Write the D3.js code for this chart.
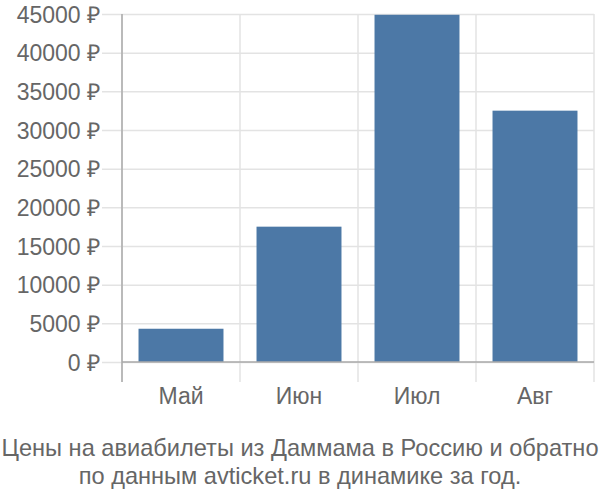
<!DOCTYPE html>
<html>
<head>
<meta charset="utf-8">
<script src="https://cdn.jsdelivr.net/npm/d3@7"></script>
<style>
  body { margin: 0; background: #fff; }
  text { font-family: "Liberation Sans", Arial, sans-serif; fill: #666; }
</style>
</head>
<body>
<svg width="600" height="500"></svg>
<script>
// chart data
const months = ["Май", "Июн", "Июл", "Авг"];
const prices = [4300, 17500, 44900, 32500];
const yTicks = [0, 5000, 10000, 15000, 20000, 25000, 30000, 35000, 40000, 45000];
const titleLines = ["Цены на авиабилеты из Даммама в Россию и обратно", "по данным avticket.ru в динамике за год."];

const margin = { top: 14, right: 6, bottom: 138, left: 122 };
const w = 600 - margin.left - margin.right;
const h = 500 - margin.top - margin.bottom;
const fs = 23;

const svg = d3.select("svg");
const chart = svg.append("g")
    .attr("transform", `translate(${margin.left},${margin.top})`);

const x = d3.scaleBand().domain(months).range([0, w]).paddingInner(0.28).paddingOuter(0.14);
const y = d3.scaleLinear().domain([0, 45000]).range([h, 0]);

// horizontal grid + y ticks
const yAxis = chart.append("g")
    .call(d3.axisLeft(y).tickValues(yTicks).tickSize(20).tickFormat(d => d + " ₽"));
yAxis.select(".domain").remove();
yAxis.selectAll(".tick line").attr("x2", w).attr("x1", -20).attr("stroke", "#e3e3e3").attr("stroke-width", 1.5);
yAxis.selectAll(".tick text").attr("x", -22).attr("font-size", fs).attr("dy", "0.35em");

// vertical grid lines at band edges
const edges = months.map(m => x(m) - x.step() * x.paddingInner() / 2).concat([w]);
edges[0] = 0;
chart.append("g").selectAll("line")
    .data(edges)
    .join("line")
    .attr("x1", d => d).attr("x2", d => d)
    .attr("y1", 0).attr("y2", h + 20)
    .attr("stroke", "#e3e3e3").attr("stroke-width", 1.5);

// bars
chart.selectAll(".bar")
    .data(prices)
    .join("rect")
    .attr("class", "bar")
    .attr("x", (d, i) => x(months[i]))
    .attr("width", x.bandwidth())
    .attr("y", d => y(d))
    .attr("height", d => h - y(d))
    .attr("fill", "#4c78a6");

// axis lines
chart.append("line").attr("x1", 0).attr("x2", 0).attr("y1", 0).attr("y2", h + 20)
    .attr("stroke", "#aaa").attr("stroke-width", 1.5);
chart.append("line").attr("x1", 0).attr("x2", w).attr("y1", h).attr("y2", h)
    .attr("stroke", "#aaa").attr("stroke-width", 1.5);

// month labels
chart.append("g").selectAll("text")
    .data(months)
    .join("text")
    .attr("x", d => x(d) + x.bandwidth() / 2)
    .attr("y", h + 42)
    .attr("text-anchor", "middle")
    .attr("font-size", fs)
    .text(d => d);

// title
svg.append("g").selectAll("text")
    .data(titleLines)
    .join("text")
    .attr("x", 300)
    .attr("y", (d, i) => 456 + i * 28)
    .attr("text-anchor", "middle")
    .attr("font-size", 23.6)
    .text(d => d);
</script>
</body>
</html>
